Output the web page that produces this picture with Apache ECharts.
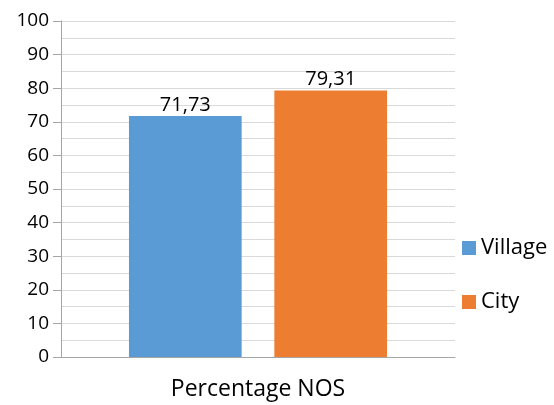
<!DOCTYPE html>
<html>
<head>
<meta charset="utf-8">
<script src="https://cdn.jsdelivr.net/npm/echarts@6/dist/echarts.min.js"></script>
<style>
  html, body { margin: 0; padding: 0; background: #ffffff; }
  #chart { width: 554px; height: 405px; }
</style>
</head>
<body>
<div id="chart"></div>
<script>
// Chart data
const categories = ['Percentage NOS'];
const seriesNames = ['Village', 'City'];
const villageValues = [71.73];
const cityValues = [79.31];
const seriesColors = ['#5B9BD5', '#ED7D31'];

const fontFamily = '"Open Sans", "Noto Sans", "Liberation Sans", sans-serif';

// Values are printed with a decimal comma
const fmt = v => String(v.toFixed(2)).replace('.', ',');

const chart = echarts.init(document.getElementById('chart'), null, { renderer: 'canvas' });

const makeSeries = (name, values, color) => ({
  name: name,
  type: 'bar',
  data: values,
  barGap: '29%',
  barCategoryGap: '34.5%',
  itemStyle: { color: color },
  label: {
    show: true,
    position: 'top',
    distance: 1,
    color: '#000000',
    fontFamily: fontFamily,
    fontSize: 20,
    formatter: p => fmt(p.value)
  }
});

chart.setOption({
  animation: false,
  backgroundColor: '#ffffff',
  grid: { left: 61, right: 99, top: 21, bottom: 48, containLabel: false },
  legend: {
    orient: 'vertical',
    left: 457,
    top: 232,
    itemWidth: 14,
    itemHeight: 14,
    itemGap: 32,
    icon: 'rect',
    data: seriesNames,
    textStyle: { color: '#000000', fontFamily: fontFamily, fontSize: 22 }
  },
  xAxis: {
    type: 'category',
    data: categories,
    axisLine: { show: true, lineStyle: { color: '#a6a6a6', width: 1 } },
    axisTick: { show: false },
    axisLabel: { color: '#000000', fontFamily: fontFamily, fontSize: 23, margin: 21 }
  },
  yAxis: {
    type: 'value',
    min: 0,
    max: 100,
    interval: 10,
    axisLine: { show: true, lineStyle: { color: '#a6a6a6', width: 1 } },
    axisTick: { show: true, length: 8, lineStyle: { color: '#a6a6a6' } },
    axisLabel: { color: '#000000', fontFamily: fontFamily, fontSize: 19, margin: 12 },
    splitLine: { show: true, lineStyle: { color: '#d9d9d9', width: 1 } },
    minorTick: { show: false, splitNumber: 2 },
    minorSplitLine: { show: true, lineStyle: { color: '#d9d9d9', width: 1 } }
  },
  series: [
    makeSeries(seriesNames[0], villageValues, seriesColors[0]),
    makeSeries(seriesNames[1], cityValues, seriesColors[1])
  ]
});
</script>
</body>
</html>
